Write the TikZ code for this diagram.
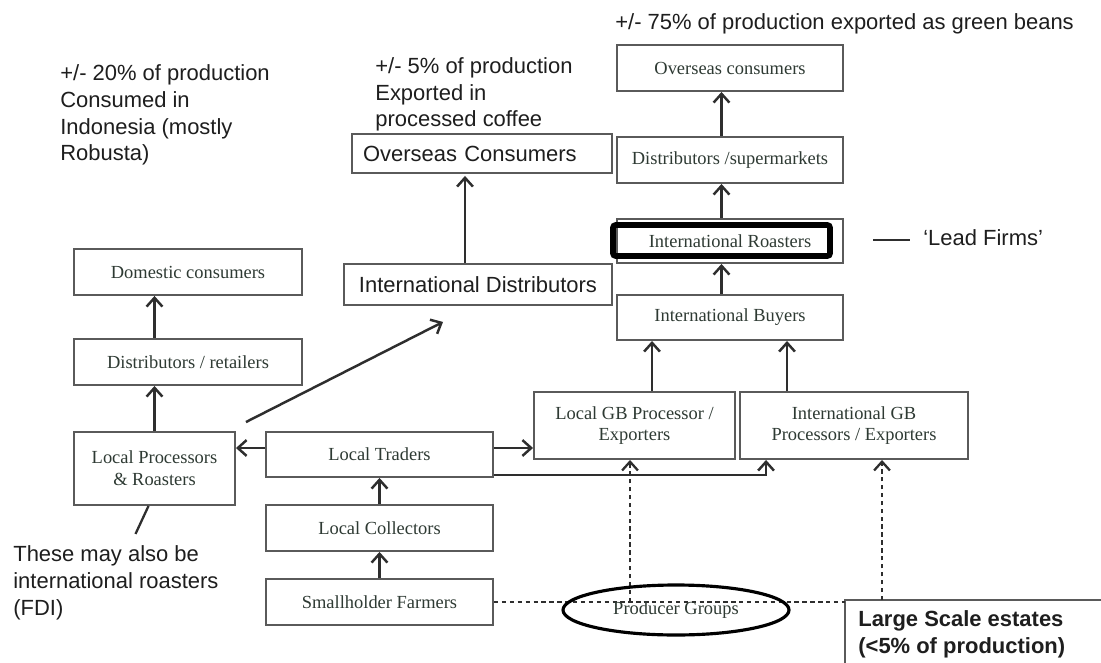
\documentclass[tikz,border=0pt]{standalone}
\usepackage{fontspec}
\setmainfont{Liberation Serif}
\setsansfont{Liberation Sans}
\usetikzlibrary{arrows.meta,calc,shapes.geometric}

\definecolor{boxline}{HTML}{5A5A5A}
\definecolor{arrowc}{HTML}{2E2E2E}
\definecolor{serifink}{HTML}{2E3A33}
\definecolor{sansink}{HTML}{1E1E1E}

\begin{document}
\begin{tikzpicture}[x=0.02cm,y=-0.02cm,
  sz/.style 2 args={minimum width=#1*0.02cm, minimum height=#2*0.02cm},
  box/.style={draw=boxline, line width=1.1pt, rectangle, inner sep=0pt,
    font=\fontsize{10.5}{12.4}\selectfont, text=serifink, align=center},
  sbox/.style={box, font=\sffamily\fontsize{12.5}{15}\selectfont, text=sansink},
  note/.style={font=\sffamily\fontsize{12.5}{15.2}\selectfont, text=sansink,
    align=left, inner sep=0pt, anchor=base west},
  tip/.style={-{Straight Barb[length=5pt,width=9pt]}},
  flow/.style={draw=arrowc, line width=1.4pt, tip},
  link/.style={draw=arrowc, line width=1.3pt},
  dashlink/.style={draw=arrowc, line width=1.3pt, dash pattern=on 2.5pt off 2pt},
]
\clip (0,0) rectangle (1101,662);
\fill[white] (0,0) rectangle (1101,662);

% green-bean export chain
\node[box, sz={226}{46}] (ocr) at (730,68) {Overseas consumers};
\node[box, sz={226}{46}] (dsup) at (730,160) {Distributors /supermarkets};
\node[box, sz={226}{44}] (iroast) at (730,241) {International Roasters};
\node[draw=black, line width=3.2pt, rounded corners=1.5pt, sz={217}{31}, inner sep=0pt] (lead) at (721.5,240.5) {};
\node[box, sz={226}{45}] (ibuy) at (730,317.5) {International Buyers};
\node[box, sz={201}{67}] (lgb) at (634.5,425.5) {Local GB Processor /\\Exporters};
\node[box, sz={228}{67}] (igb) at (854,425.5) {International GB\\Processors / Exporters};

% processed-coffee export chain
\node[sbox, text width=4.76cm, align=left, inner xsep=0.22cm, minimum height=0.78cm] (ocl) at (482,153.5) {Overseas Consumers};
\node[sbox, sz={268}{41}] (idist) at (478,284.5) {International Distributors};

% domestic chain
\node[box, sz={228}{46}] (dom) at (188,272) {Domestic consumers};
\node[box, sz={228}{46}] (dret) at (188,362) {Distributors / retailers};
\node[box, sz={161}{73}] (lpr) at (154.5,468.5) {Local Processors\\\& Roasters};

% supply base
\node[box, sz={227}{45}] (ltr) at (379.5,454.5) {Local Traders};
\node[box, sz={227}{46}] (lcol) at (379.5,528) {Local Collectors};
\node[box, sz={227}{46}] (shf) at (379.5,602) {Smallholder Farmers};
\coordinate (lsecorner) at (845,600);

% annotations (multi-line notes are placed by the baseline of their last line)
\node[note] (n75) at (615,30) {+/- 75\% of production exported as green beans};
\node[note] (n5) at (375,127) {+/- 5\% of production\\Exported in\\processed coffee};
\node[note] (n20) at (60,161) {+/- 20\% of production\\Consumed in\\Indonesia (mostly\\Robusta)};
\node[note] (fdi) at (13,615) {These may also be\\international roasters\\(FDI)};
\node[note] (lf) at (923,245) {‘Lead Firms’};
\node[note, font=\sffamily\bfseries\fontsize{12.5}{15}\selectfont] (lse) at (858,653) {Large Scale estates\\(<5\% of production)};
\draw[boxline, line width=1.1pt] (lsecorner |- 0,700) -- (lsecorner) -- (lsecorner -| 1120,0);

% connectors
\draw[flow] (lpr.north) -- (lpr.north |- dret.south);
\draw[flow] (lpr.north |- dret.north) -- (lpr.north |- dom.south);
\coordinate (lt1) at ($(ltr.west)+(0,-6.5)$);
\draw[flow] (lt1) -- (lt1 -| lpr.east);
\draw[flow] (lt1 -| ltr.east) -- (lt1 -| lgb.west);
\coordinate (lt2) at ($(ltr.east)+(0,20.5)$);
\coordinate (igbin) at ($(igb.south west)+(27,0)$);
\draw[flow] (lt2) -| (igbin);
\draw[flow] (lcol.north) -- (ltr.south);
\draw[flow] (shf.north) -- (lcol.south);
\coordinate (lg1) at ($(lgb.north)+(17.5,0)$);
\draw[flow] (lg1) -- (lg1 |- ibuy.south);
\coordinate (ig1) at ($(igb.north)+(-67,0)$);
\draw[flow] (ig1) -- (ig1 |- ibuy.south);
\draw[flow] (ibuy.north -| lead.center) -- (iroast.south -| lead.center);
\draw[flow] (iroast.north -| lead.center) -- (dsup.south -| lead.center);
\draw[flow] (dsup.north -| lead.center) -- (ocr.south -| lead.center);
\coordinate (id1) at ($(idist.north)+(-13,0)$);
\draw[flow] (id1) -- ($(id1 |- ocl.south)+(0,2)$);
\draw[flow] ($(lpr.north east)+(10,-9)$) -- ($(idist.south)+(-35,16)$);
\draw[link] ($(lpr.south)+(-6,0)$) -- ($(lpr.south)+(-19,28)$);
\draw[link] ($(lf.west)+(-50,3)$) -- ($(lf.west)+(-13,3)$);

% producer-group and estate links
\draw[dashlink] (shf.east) -- (shf.east -| lsecorner);
\coordinate (pg1) at ($(lgb.south)+(-4.5,0)$);
\draw[dashlink, tip] (pg1 |- shf.east) -- (pg1);
\coordinate (ls1) at ($(lsecorner)+(37,0)$);
\draw[dashlink, tip] (ls1) -- (ls1 |- igb.south);
\node[ellipse, draw=black, line width=1.8pt, sz={226}{50}, inner sep=0pt,
  font=\fontsize{10.5}{12.4}\selectfont, text=serifink] (pg) at (676,610) {Producer Groups};
\end{tikzpicture}
\end{document}
